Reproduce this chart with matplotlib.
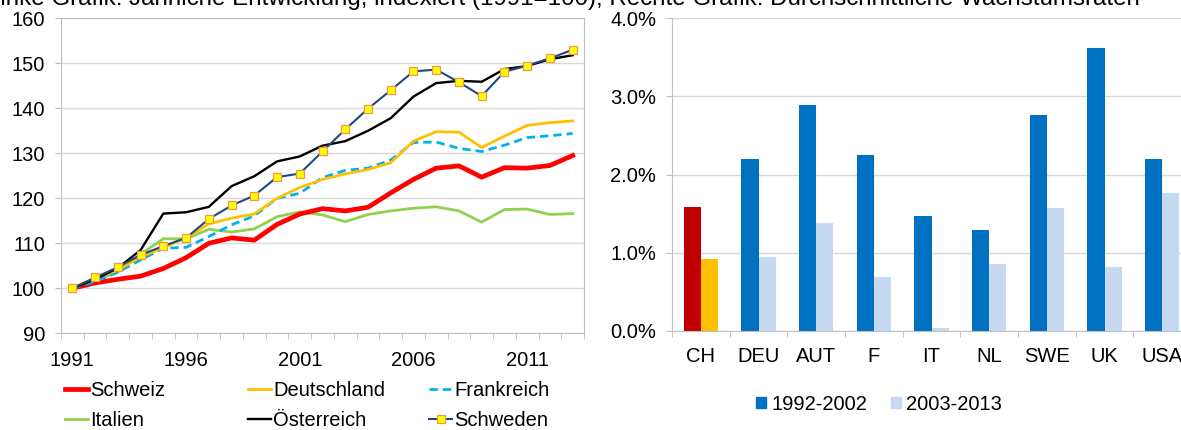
"""Two-panel chart: indexed development (left) and average growth rates (right)."""
import matplotlib
matplotlib.use("Agg")
import matplotlib.pyplot as plt
from matplotlib.patches import Patch
from matplotlib.ticker import FuncFormatter

plt.rcParams["font.family"] = ["Liberation Sans", "DejaVu Sans"]
FS = 14.5

# --- data, left panel (index 1991 = 100) ---
years = list(range(1991, 2014))
schweiz = [100, 101.2, 102.0, 102.7, 104.4, 106.8, 110.0, 111.2, 110.7, 114.2, 116.5,
           117.7, 117.2, 118.0, 121.2, 124.2, 126.7, 127.2, 124.7, 126.8, 126.7, 127.3, 129.5]
deutschland = [100, 102.3, 104.0, 107.0, 109.0, 111.2, 114.3, 115.6, 116.5, 120.0, 122.4,
               124.2, 125.4, 126.4, 127.9, 132.7, 134.8, 134.7, 131.3, 133.8, 136.2, 136.8, 137.2]
frankreich = [100, 101.5, 103.6, 106.3, 108.9, 109.1, 111.5, 114.1, 116.1, 120.0, 121.1,
              124.6, 126.2, 126.7, 128.5, 132.4, 132.5, 131.1, 130.4, 131.8, 133.5, 133.9, 134.4]
italien = [100, 101.8, 103.6, 107.6, 111.0, 111.0, 113.1, 112.5, 113.2, 115.9, 117.0,
           116.3, 114.8, 116.4, 117.2, 117.8, 118.1, 117.2, 114.7, 117.5, 117.6, 116.4, 116.6]
oesterreich = [100, 102.0, 104.5, 108.5, 116.6, 116.9, 118.1, 122.7, 124.9, 128.2, 129.3,
               131.7, 132.7, 135.0, 137.8, 142.6, 145.6, 146.1, 145.9, 148.7, 149.4, 150.9, 151.8]
schweden = [100, 102.4, 104.7, 107.4, 109.4, 111.2, 115.4, 118.4, 120.6, 124.7, 125.5,
            130.4, 135.3, 139.9, 144.0, 148.2, 148.6, 145.8, 142.7, 148.1, 149.5, 151.1, 153.0]

# --- data, right panel (average growth in %) ---
countries = ["CH", "DEU", "AUT", "F", "IT", "NL", "SWE", "UK", "USA"]
growth_9202 = [1.59, 2.20, 2.89, 2.25, 1.47, 1.29, 2.76, 3.62, 2.20]
growth_0313 = [0.92, 0.94, 1.38, 0.69, 0.03, 0.86, 1.57, 0.82, 1.76]

W, H = 1181, 430
fig = plt.figure(figsize=(W / 100, H / 100), dpi=100)

GRID = "#D9D9D9"
SPINE = "#BFBFBF"

# title line, mostly cut off at the top edge (as in the source image)
fig.text(1140 / W, (H - 5) / H,
         "Linke Grafik: Jährliche Entwicklung, indexiert (1991=100); "
         "Rechte Grafik: Durchschnittliche Wachstumsraten",
         ha="right", va="baseline", fontsize=17.4)

# ---------------- left panel ----------------
ax1 = fig.add_axes([61 / W, (H - 333.3) / H, 523 / W, 315 / H])
x = list(range(len(years)))

styles = [
    ("Italien", italien, dict(color="#92D050", lw=2.0)),
    ("Schweiz", schweiz, dict(color="#FF0000", lw=3.4)),
    ("Frankreich", frankreich, dict(color="#00B0F0", lw=2.0, dashes=(3, 1.8))),
    ("Deutschland", deutschland, dict(color="#FFC000", lw=2.0)),
    ("Österreich", oesterreich, dict(color="black", lw=1.7)),
    ("Schweden", schweden, dict(color="#1F497D", lw=1.5, marker="s", ms=5.5,
                                mfc="#FFFF00", mec="#F79646", mew=0.9)),
]
handles = {}
for name, vals, kw in styles:
    (ln,) = ax1.plot(x, vals, solid_joinstyle="miter", **kw)
    handles[name] = ln

ax1.set_xlim(-0.5, len(years) - 0.5)
ax1.set_ylim(90, 160)
ax1.set_yticks(range(90, 161, 10))
ax1.grid(axis="y", color=GRID, lw=1)
ax1.set_axisbelow(True)
for s in ax1.spines.values():
    s.set_color(SPINE)
ax1.set_xticks(x[::5])
ax1.set_xticklabels([str(y) for y in years[::5]])
ax1.set_xticks([i - 0.5 for i in range(len(years) + 1)], minor=True)
ax1.tick_params(axis="x", which="major", length=0, pad=13, labelsize=FS)
ax1.tick_params(axis="x", which="minor", length=4.5, color=SPINE, direction="out")
ax1.tick_params(axis="y", length=4.5, color=SPINE, pad=7, labelsize=FS)

# legend: three columns, each with two rows
cols = [("Schweiz", "Italien", 65), ("Deutschland", "Österreich", 248),
        ("Frankreich", "Schweden", 429)]
for top, bottom, xpix in cols:
    hs = [handles[top], handles[bottom]]
    fig.legend(hs, [top, bottom], loc="center left",
               bbox_to_anchor=(xpix / W, (H - 405.5) / H),
               frameon=False, fontsize=FS, handlelength=1.15, handletextpad=0.1,
               borderpad=0, borderaxespad=0, labelspacing=0.55)

# ---------------- right panel ----------------
ax2 = fig.add_axes([672 / W, (H - 330.7) / H, 519 / W, 312.4 / H])
bw = 0.295
pos = list(range(len(countries)))
c1 = ["#C00000"] + ["#0070C0"] * (len(countries) - 1)
c2 = ["#FFC000"] + ["#C6D9F1"] * (len(countries) - 1)
ax2.bar([p - bw / 2 for p in pos], growth_9202, width=bw, color=c1)
ax2.bar([p + bw / 2 for p in pos], growth_0313, width=bw, color=c2)
ax2.set_xlim(-0.5, len(countries) - 0.5)
ax2.set_ylim(0, 4)
ax2.set_yticks([0, 1, 2, 3, 4])
ax2.yaxis.set_major_formatter(FuncFormatter(lambda v, _: f"{v:.1f}%"))
ax2.grid(axis="y", color=GRID, lw=1)
ax2.set_axisbelow(True)
ax2.spines["top"].set_visible(False)
ax2.spines["right"].set_visible(False)
ax2.spines["left"].set_color(SPINE)
ax2.spines["bottom"].set_color(SPINE)
ax2.set_xticks(pos)
ax2.set_xticklabels(countries)
ax2.set_xticks([p - 0.5 for p in range(len(countries) + 1)], minor=True)
ax2.tick_params(axis="x", which="major", length=0, pad=12, labelsize=FS)
ax2.tick_params(axis="x", which="minor", length=4.5, color=SPINE, direction="out")
ax2.tick_params(axis="y", length=4.5, color=SPINE, pad=7, labelsize=FS)

fig.legend([Patch(color="#0070C0"), Patch(color="#C6D9F1")],
           ["1992-2002", "2003-2013"], loc="center",
           bbox_to_anchor=(879 / W, (H - 404) / H), ncol=2, frameon=False,
           fontsize=FS, handlelength=0.5, handleheight=0.5, handletextpad=0.25,
           columnspacing=1.2, borderpad=0, borderaxespad=0)

fig.savefig("out.png", dpi=100)
